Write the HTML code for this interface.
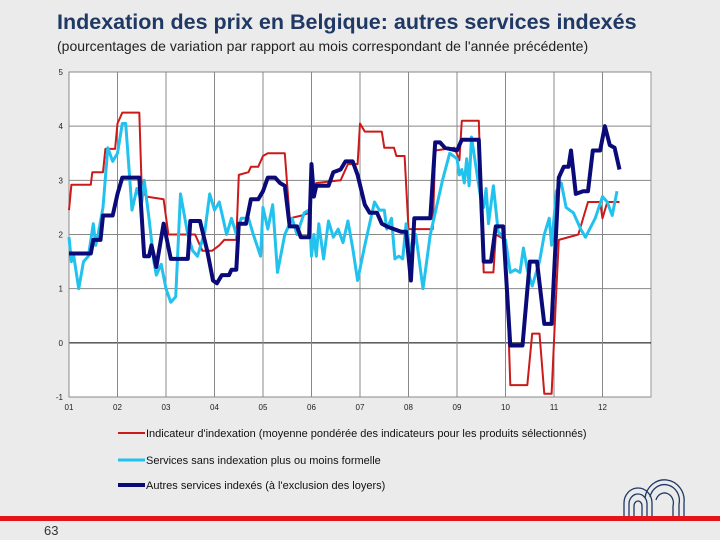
<!DOCTYPE html>
<html><head><meta charset="utf-8">
<style>
body{margin:0;background:#ebebeb;font-family:"Liberation Sans",sans-serif;}
#wrap{position:relative;width:720px;height:540px;overflow:hidden;background:#ebebeb;}
</style></head>
<body>
<div id="wrap">
<svg id="chart" width="720" height="540" style="position:absolute;left:0;top:0">
<text x="57" y="29" font-size="21.5" font-weight="bold" fill="#1f3864" font-family="Liberation Sans, sans-serif">Indexation des prix en Belgique: autres services indexés</text>
<text x="57" y="51" font-size="14" fill="#222" font-family="Liberation Sans, sans-serif">(pourcentages de variation par rapport au mois correspondant de l'année précédente)</text>
<rect x="69" y="72" width="582" height="325" fill="#fff" stroke="#999"/>
<g id="grid"></g>
<g id="series"></g>
<g id="legend"></g>
<rect x="0" y="516" width="720" height="5" fill="#e4141b"/>
<text x="44" y="535" font-size="13" fill="#333" font-family="Liberation Sans, sans-serif">63</text>
<g fill="none" stroke="#1f3864" stroke-width="1.3">
<path d="M624 516 V503 A14 15 0 0 1 652 503 V516"/>
<path d="M629 516 V504 A9 10 0 0 1 647 504 V516"/>
<path d="M634 516 V506 A4 5 0 0 1 642 506 V516"/>
<path d="M645 498 A19 20 0 0 1 684 503 V516"/>
<path d="M650 497 A14 15 0 0 1 679 504 V516"/>
<path d="M656 500 A8 9 0 0 1 673 506 V516"/>
</g>
</svg>
</div>
<script>
const yTicks=[-1,0,1,2,3,4,5];
const yTickLabels=["-1","0","1","2","3","4","5"];
const xTickYears=[2001,2002,2003,2004,2005,2006,2007,2008,2009,2010,2011,2012];
const xTickLabels=["01","02","03","04","05","06","07","08","09","10","11","12"];
const redX=[2001.0,2001.05,2001.45,2001.48,2001.7,2001.75,2001.95,2002.0,2002.1,2002.45,2002.5,2002.6,2002.95,2003.05,2003.5,2003.6,2003.75,2003.95,2004.1,2004.2,2004.45,2004.5,2004.7,2004.75,2004.9,2005.0,2005.1,2005.45,2005.55,2005.8,2005.95,2006.02,2006.1,2006.6,2006.75,2006.95,2007.0,2007.1,2007.45,2007.5,2007.7,2007.75,2007.92,2008.0,2008.5,2008.55,2008.95,2009.05,2009.1,2009.45,2009.55,2009.75,2009.8,2010.0,2010.1,2010.45,2010.55,2010.7,2010.8,2010.95,2011.05,2011.1,2011.5,2011.7,2011.95,2012.0,2012.1,2012.35];
const redY=[2.45,2.92,2.92,3.15,3.15,3.58,3.58,4.05,4.25,4.25,2.8,2.7,2.65,2.0,2.0,2.0,1.7,1.7,1.8,1.9,1.9,3.1,3.15,3.25,3.25,3.45,3.5,3.5,2.3,2.35,2.4,2.85,2.95,3.0,3.3,3.3,4.05,3.9,3.9,3.6,3.6,3.45,3.45,2.1,2.1,3.55,3.6,3.37,4.1,4.1,1.3,1.3,2.0,1.9,-0.78,-0.78,0.17,0.17,-0.94,-0.94,1.0,1.9,2.0,2.6,2.6,2.3,2.6,2.6];
const cyanX=[2001.0,2001.05,2001.1,2001.2,2001.3,2001.4,2001.5,2001.55,2001.6,2001.7,2001.8,2001.9,2002.0,2002.1,2002.17,2002.3,2002.4,2002.5,2002.55,2002.65,2002.75,2002.8,2002.9,2003.0,2003.1,2003.2,2003.3,2003.45,2003.55,2003.65,2003.8,2003.9,2004.0,2004.1,2004.25,2004.35,2004.45,2004.55,2004.7,2004.8,2004.95,2005.0,2005.1,2005.2,2005.3,2005.45,2005.6,2005.7,2005.85,2005.95,2006.0,2006.05,2006.1,2006.15,2006.25,2006.35,2006.45,2006.55,2006.65,2006.75,2006.85,2006.95,2007.1,2007.3,2007.4,2007.5,2007.55,2007.65,2007.72,2007.8,2007.88,2007.95,2008.05,2008.15,2008.3,2008.45,2008.55,2008.7,2008.85,2009.0,2009.05,2009.1,2009.15,2009.2,2009.25,2009.3,2009.45,2009.5,2009.55,2009.6,2009.65,2009.75,2009.85,2010.0,2010.1,2010.2,2010.3,2010.37,2010.45,2010.55,2010.7,2010.8,2010.9,2010.95,2011.05,2011.15,2011.25,2011.4,2011.55,2011.65,2011.85,2012.0,2012.1,2012.2,2012.3];
const cyanY=[1.95,1.5,1.6,1.0,1.5,1.6,2.2,1.8,2.0,2.5,3.6,3.35,3.5,4.05,4.05,2.45,2.85,2.6,3.0,2.3,1.5,1.25,1.45,1.0,0.75,0.85,2.75,2.0,1.7,1.6,2.05,2.75,2.45,2.6,2.0,2.3,2.0,2.3,2.3,2.0,1.6,2.5,2.1,2.55,1.3,2.0,2.3,2.0,2.4,2.45,1.6,2.0,1.6,2.2,1.55,2.25,1.95,2.1,1.85,2.25,1.75,1.15,1.8,2.6,2.45,2.45,2.1,2.3,1.55,1.6,1.55,2.2,1.6,2.0,1.0,2.0,2.4,3.0,3.5,3.4,3.1,3.2,2.95,3.4,2.9,3.8,2.9,2.6,2.5,2.85,2.2,2.9,2.05,1.9,1.3,1.35,1.3,1.75,1.35,1.05,1.5,2.0,2.3,1.8,2.8,2.95,2.5,2.4,2.1,1.95,2.3,2.7,2.6,2.35,2.8];
const navyX=[2001.0,2001.45,2001.5,2001.65,2001.7,2001.9,2002.0,2002.1,2002.45,2002.55,2002.65,2002.7,2002.8,2002.95,2003.1,2003.45,2003.5,2003.7,2003.85,2003.97,2004.05,2004.15,2004.3,2004.35,2004.45,2004.5,2004.65,2004.75,2004.9,2005.0,2005.1,2005.25,2005.35,2005.45,2005.55,2005.7,2005.78,2005.95,2006.0,2006.05,2006.1,2006.35,2006.45,2006.6,2006.7,2006.85,2006.95,2007.1,2007.2,2007.35,2007.45,2007.55,2007.7,2007.85,2007.95,2008.05,2008.12,2008.45,2008.55,2008.65,2008.75,2009.0,2009.1,2009.45,2009.55,2009.7,2009.8,2009.95,2010.1,2010.35,2010.5,2010.65,2010.8,2010.95,2011.1,2011.2,2011.3,2011.35,2011.45,2011.6,2011.7,2011.8,2011.95,2012.05,2012.15,2012.25,2012.35];
const navyY=[1.65,1.65,1.9,1.9,2.35,2.35,2.75,3.05,3.05,1.6,1.6,1.8,1.4,2.2,1.55,1.55,2.25,2.25,1.7,1.15,1.1,1.25,1.25,1.35,1.35,2.2,2.2,2.65,2.65,2.8,3.05,3.05,2.95,2.9,2.15,2.15,1.95,1.95,3.3,2.7,2.9,2.9,3.15,3.2,3.35,3.35,3.1,2.55,2.4,2.4,2.2,2.15,2.1,2.05,2.05,1.15,2.3,2.3,3.7,3.7,3.6,3.55,3.75,3.75,1.5,1.5,2.15,2.15,-0.05,-0.05,1.5,1.5,0.35,0.35,3.05,3.25,3.25,3.55,2.75,2.8,2.8,3.55,3.55,4.0,3.65,3.6,3.2];
const legendLabels=["Indicateur d'indexation (moyenne pondérée des indicateurs pour les produits sélectionnés)","Services sans indexation plus ou moins formelle","Autres services indexés (à l'exclusion des loyers)"];

const X0=69,X1=651,Y0=397,Y1=72,XMIN=2001,XMAX=2013,YMIN=-1,YMAX=5;
function sx(v){return X0+(v-XMIN)/(XMAX-XMIN)*(X1-X0);}
function sy(v){return Y0-(v-YMIN)/(YMAX-YMIN)*(Y0-Y1);}
const NS="http://www.w3.org/2000/svg";
function mk(tag,attrs,parent){const e=document.createElementNS(NS,tag);for(const k in attrs)e.setAttribute(k,attrs[k]);parent.appendChild(e);return e;}
const grid=document.getElementById('grid');
yTicks.forEach((t,i)=>{
  const l=mk('line',{x1:X0,x2:X1,y1:sy(t),y2:sy(t),stroke:t===0?'#000':'#888','stroke-width':1},grid);
  
  
  const tx=mk('text',{x:X0-6,y:sy(t)+3,'font-size':8,'text-anchor':'end',fill:'#222','font-family':'Liberation Sans, sans-serif'},grid);
  tx.textContent=yTickLabels[i];
  
  
});
xTickYears.forEach((t,i)=>{
  const l=mk('line',{x1:sx(t),x2:sx(t),y1:Y1,y2:Y0,stroke:'#888','stroke-width':1},grid);
  
  
  const tx=mk('text',{x:sx(t),y:Y0+13,'font-size':8,'text-anchor':'middle',fill:'#222','font-family':'Liberation Sans, sans-serif'},grid);
  tx.textContent=xTickLabels[i];
  
  
});
const ser=document.getElementById('series');
function line(xs,ys,color,w,name){
  const d=xs.map((x,i)=>(i?'L':'M')+sx(x).toFixed(1)+' '+sy(ys[i]).toFixed(1)).join(' ');
  const p=mk('path',{d:d,fill:'none',stroke:color,'stroke-width':w,'stroke-linejoin':'round'},ser);
  
  
}
line(redX,redY,'#cc1a1a',2,'series-indicateur-indexation');
line(cyanX,cyanY,'#22c2ee',3,'series-services-sans-indexation');
line(navyX,navyY,'#0a0a78',4,'series-autres-services-indexes');
const leg=document.getElementById('legend');
const legColors=['#cc1a1a','#22c2ee','#0a0a78'],legW=[2,3,4],legY=[433,460,485];
legendLabels.forEach((lab,i)=>{
  const l=mk('line',{x1:118,x2:145,y1:legY[i],y2:legY[i],stroke:legColors[i],'stroke-width':legW[i]},leg);
  
  
  const t=mk('text',{x:146,y:legY[i]+4,'font-size':11,fill:'#111','font-family':'Liberation Sans, sans-serif'},leg);
  t.textContent=lab;
  
  
});
</script>
</body></html>
